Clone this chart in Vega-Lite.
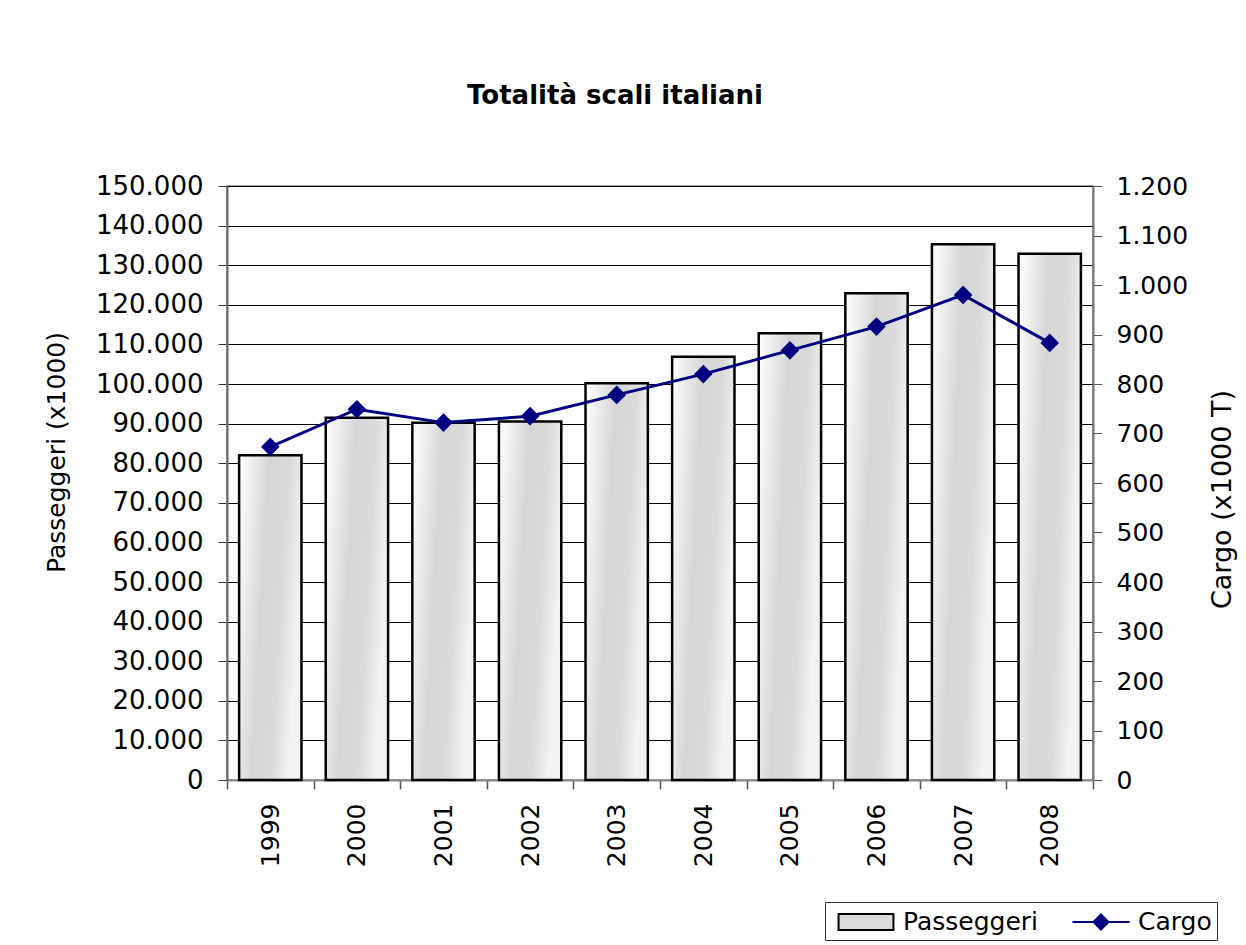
{
  "$schema": "https://vega.github.io/schema/vega-lite/v6.json",
  "autosize": {"type": "none"},
  "padding": {"left": 227, "top": 186, "right": 153, "bottom": 165},
  "width": 866,
  "height": 594,
  "background": "white",
  "title": {
    "text": "Totalità scali italiani",
    "fontSize": 26,
    "fontWeight": "bold",
    "font": "DejaVu Sans",
    "color": "black",
    "anchor": "middle",
    "dx": -45,
    "offset": 64
  },
  "data": {
    "values": [
      {"anno": "1999", "passeggeri": 82000, "cargo": 673},
      {"anno": "2000", "passeggeri": 91500, "cargo": 749},
      {"anno": "2001", "passeggeri": 90200, "cargo": 722},
      {"anno": "2002", "passeggeri": 90500, "cargo": 735},
      {"anno": "2003", "passeggeri": 100200, "cargo": 778},
      {"anno": "2004", "passeggeri": 106900, "cargo": 820},
      {"anno": "2005", "passeggeri": 112800, "cargo": 868},
      {"anno": "2006", "passeggeri": 122900, "cargo": 916},
      {"anno": "2007", "passeggeri": 135300, "cargo": 980},
      {"anno": "2008", "passeggeri": 132900, "cargo": 883}
    ]
  },
  "encoding": {
    "x": {
      "field": "anno",
      "type": "ordinal",
      "scale": {"paddingInner": 0, "paddingOuter": 0},
      "axis": {
        "title": null,
        "labelAngle": -90,
        "labelFontSize": 25,
        "labelColor": "black",
        "labelPadding": 14,
        "tickBand": "extent",
        "tickSize": 9,
        "tickColor": "#555",
        "tickWidth": 1.5,
        "domainColor": "#888",
        "domainWidth": 2,
        "grid": false
      }
    }
  },
  "layer": [
    {
      "mark": {
        "type": "bar",
        "width": {"band": 0.72},
        "fill": {
          "gradient": "linear",
          "x1": 0, "y1": 0, "x2": 1, "y2": 0.3,
          "stops": [
            {"offset": 0, "color": "#ffffff"},
            {"offset": 0.45, "color": "#d6d6d6"},
            {"offset": 0.75, "color": "#dadada"},
            {"offset": 1, "color": "#f2f2f2"}
          ]
        },
        "strokeWidth": 2.5
      },
      "encoding": {
        "y": {
          "field": "passeggeri",
          "type": "quantitative",
          "scale": {"domain": [0, 150000], "nice": false},
          "axis": {
            "orient": "left",
            "title": "Passeggeri (x1000)",
            "titleFontSize": 25,
            "titleFontWeight": "normal",
            "titleColor": "black",
            "titlePadding": 26,
            "titleY": 266,
            "values": [0, 10000, 20000, 30000, 40000, 50000, 60000, 70000, 80000, 90000, 100000, 110000, 120000, 130000, 140000, 150000],
            "labelExpr": "replace(format(datum.value, ',d'), ',', '.')",
            "labelFontSize": 26,
            "labelColor": "black",
            "labelPadding": 15,
            "tickSize": 9,
            "tickColor": "#333",
            "domainColor": "#666",
            "domainWidth": 2,
            "grid": true,
            "gridColor": "black",
            "gridWidth": 1
          }
        },
        "stroke": {
          "datum": "Passeggeri",
          "type": "nominal",
          "scale": {"domain": ["Passeggeri", "Cargo"], "range": ["black", "#000080"]},
          "legend": {
            "title": null,
            "orient": "none",
            "legendX": 598,
            "legendY": 716,
            "direction": "horizontal",
            "strokeColor": "#333",
            "fillColor": "white",
            "padding": 5,
            "symbolType": "M-1.96,-0.57H1.96V0.57H-1.96Z",
            "symbolFillColor": "#dcdcdc",
            "symbolStrokeWidth": 2,
            "symbolOffset": 21,
            "symbolSize": 784,
            "labelFontSize": 25,
            "labelColor": "black",
            "labelOffset": 22,
            "columnPadding": 26,
            "encode": {
              "symbols": {
                "update": {
                  "shape": {"signal": "datum.value === 'Cargo' ? 'M-2.04,0L2.04,0M0,-0.54L0.54,0L0,0.54L-0.54,0Z' : 'M-1.96,-0.57H1.96V0.57H-1.96Z'"},
                  "fill": {"signal": "datum.value === 'Cargo' ? '#000080' : '#dcdcdc'"},
                  "strokeWidth": {"value": 2},
                  "opacity": {"value": 1},
                  "fillOpacity": {"value": 1}
                }
              }
            }
          }
        }
      }
    },
    {
      "mark": {
        "type": "line",
        "strokeWidth": 3,
        "point": {"shape": "diamond", "size": 250, "filled": true, "fill": "#000080"}
      },
      "encoding": {
        "y": {
          "field": "cargo",
          "type": "quantitative",
          "scale": {"domain": [0, 1200], "nice": false},
          "axis": {
            "orient": "right",
            "title": "Cargo (x1000 T)",
            "titleAngle": -90,
            "titleBaseline": "top",
            "titleFontSize": 27,
            "titleFontWeight": "normal",
            "titleColor": "black",
            "titlePadding": 22,
            "titleY": 313,
            "values": [0, 100, 200, 300, 400, 500, 600, 700, 800, 900, 1000, 1100, 1200],
            "labelExpr": "replace(format(datum.value, ',d'), ',', '.')",
            "labelFontSize": 25,
            "labelColor": "black",
            "labelPadding": 14,
            "tickSize": 9,
            "tickColor": "#555",
            "domainColor": "#777",
            "domainWidth": 2,
            "grid": false
          }
        },
        "stroke": {
          "datum": "Cargo",
          "type": "nominal",
          "legend": {
            "title": null,
            "orient": "none",
            "legendX": 598,
            "legendY": 716,
            "direction": "horizontal",
            "strokeColor": "#333",
            "fillColor": "white",
            "padding": 5,
            "symbolType": "M-1.96,-0.57H1.96V0.57H-1.96Z",
            "symbolFillColor": "#dcdcdc",
            "symbolStrokeWidth": 2,
            "symbolOffset": 21,
            "symbolSize": 784,
            "labelFontSize": 25,
            "labelColor": "black",
            "labelOffset": 22,
            "columnPadding": 26,
            "encode": {
              "symbols": {
                "update": {
                  "shape": {"signal": "datum.value === 'Cargo' ? 'M-2.04,0L2.04,0M0,-0.54L0.54,0L0,0.54L-0.54,0Z' : 'M-1.96,-0.57H1.96V0.57H-1.96Z'"},
                  "fill": {"signal": "datum.value === 'Cargo' ? '#000080' : '#dcdcdc'"},
                  "strokeWidth": {"value": 2},
                  "opacity": {"value": 1},
                  "fillOpacity": {"value": 1}
                }
              }
            }
          }
        }
      }
    }
  ],
  "resolve": {"scale": {"y": "independent"}},
  "config": {
    "font": "DejaVu Sans",
    "view": {"stroke": "#888", "strokeWidth": 1.5}
  }
}
